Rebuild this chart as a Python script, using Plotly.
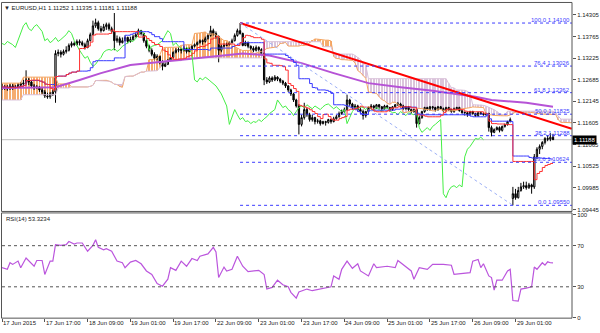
import plotly.graph_objects as go

# ---------------- data ----------------
bar_index = list(range(207))  # hourly bars from 17 Jun 2015 01:00

open_ = [1.1250,1.1248,1.1250,1.1246,1.1253,1.1248,1.1250,1.1255,1.1258,1.1260,
         1.1268,1.1263,1.1253,1.1248,1.1250,1.1243,1.1238,1.1228,1.1226,1.1233,
         1.1238,1.1334,1.1337,1.1332,1.1339,1.1342,1.1354,1.1359,1.1356,1.1364,
         1.1361,1.1356,1.1349,1.1366,1.1381,1.1403,1.1411,1.1396,1.1391,1.1401,
         1.1406,1.1396,1.1389,1.1366,1.1371,1.1361,1.1366,1.1374,1.1364,1.1369,
         1.1376,1.1381,1.1391,1.1384,1.1366,1.1352,1.1342,1.1332,1.1322,1.1327,
         1.1312,1.1302,1.1307,1.1317,1.1324,1.1337,1.1342,1.1344,1.1342,1.1347,
         1.1339,1.1344,1.1352,1.1356,1.1361,1.1366,1.1364,1.1371,1.1379,1.1391,
         1.1384,1.1376,1.1342,1.1352,1.1354,1.1356,1.1361,1.1366,1.1379,1.1391,
         1.1384,1.1354,1.1361,1.1352,1.1347,1.1342,1.1349,1.1344,1.1334,1.1268,
         1.1263,1.1273,1.1268,1.1275,1.1270,1.1265,1.1260,1.1253,1.1243,1.1233,
         1.1218,1.1203,1.1157,1.1174,1.1194,1.1181,1.1169,1.1174,1.1164,1.1166,
         1.1159,1.1164,1.1162,1.1169,1.1164,1.1171,1.1176,1.1184,1.1189,1.1194,
         1.1218,1.1208,1.1199,1.1203,1.1194,1.1189,1.1179,1.1189,1.1199,1.1203,
         1.1199,1.1206,1.1201,1.1196,1.1203,1.1199,1.1194,1.1201,1.1206,1.1208,
         1.1203,1.1196,1.1201,1.1194,1.1189,1.1194,1.1159,1.1174,1.1189,1.1199,
         1.1194,1.1201,1.1199,1.1194,1.1201,1.1196,1.1191,1.1199,1.1194,1.1189,
         1.1196,1.1199,1.1191,1.1186,1.1186,1.1181,1.1189,1.1184,1.1179,1.1186,
         1.1184,1.1181,1.1184,1.1149,1.1137,1.1144,1.1149,1.1142,1.1152,1.1157,
         1.1164,1.0972,1.0984,1.0974,1.0992,1.1001,1.1004,1.0999,1.1006,1.1001,
         1.1076,1.1095,1.1102,1.1112,1.1122,1.1120,1.11252]
high = [1.1258,1.1255,1.1255,1.1258,1.1258,1.1255,1.1260,1.1263,1.1268,1.1292,
        1.1273,1.1265,1.1258,1.1255,1.1253,1.1248,1.1243,1.1236,1.1238,1.1243,
        1.1342,1.1344,1.1342,1.1344,1.1352,1.1359,1.1364,1.1364,1.1369,1.1369,
        1.1366,1.1361,1.1371,1.1386,1.1416,1.1421,1.1416,1.1403,1.1408,1.1411,
        1.1411,1.1401,1.1435,1.1379,1.1376,1.1374,1.1379,1.1376,1.1376,1.1381,
        1.1386,1.1396,1.1393,1.1386,1.1369,1.1356,1.1347,1.1337,1.1332,1.1329,
        1.1317,1.1312,1.1320,1.1327,1.1339,1.1347,1.1349,1.1347,1.1352,1.1349,
        1.1349,1.1354,1.1359,1.1364,1.1369,1.1369,1.1376,1.1384,1.1403,1.1396,
        1.1389,1.1379,1.1356,1.1359,1.1361,1.1364,1.1371,1.1384,1.1396,1.1410,
        1.1386,1.1366,1.1364,1.1354,1.1352,1.1354,1.1352,1.1347,1.1337,1.1275,
        1.1277,1.1277,1.1280,1.1277,1.1273,1.1268,1.1263,1.1255,1.1246,1.1236,
        1.1221,1.1208,1.1181,1.1211,1.1199,1.1186,1.1181,1.1176,1.1171,1.1169,
        1.1166,1.1166,1.1171,1.1171,1.1176,1.1181,1.1189,1.1194,1.1199,1.1231,
        1.1221,1.1211,1.1208,1.1206,1.1199,1.1194,1.1191,1.1201,1.1208,1.1206,
        1.1208,1.1208,1.1203,1.1206,1.1206,1.1201,1.1203,1.1208,1.1213,1.1211,
        1.1206,1.1203,1.1203,1.1196,1.1196,1.1196,1.1179,1.1191,1.1201,1.1201,
        1.1203,1.1203,1.1201,1.1203,1.1203,1.1199,1.1201,1.1201,1.1196,1.1199,
        1.1201,1.1201,1.1194,1.1189,1.1189,1.1191,1.1191,1.1186,1.1189,1.1189,
        1.1186,1.1186,1.1186,1.1154,1.1147,1.1152,1.1152,1.1154,1.1159,1.1166,
        1.1174,1.1001,1.0996,1.1001,1.1011,1.1014,1.1014,1.1011,1.1009,1.1083,
        1.1100,1.1107,1.1115,1.1125,1.1130,1.1135,1.11335]
low = [1.1243,1.1243,1.1241,1.1243,1.1243,1.1246,1.1248,1.1250,1.1253,1.1258,
       1.1255,1.1248,1.1243,1.1246,1.1238,1.1233,1.1223,1.1221,1.1221,1.1228,
       1.1211,1.1327,1.1324,1.1329,1.1334,1.1339,1.1349,1.1352,1.1354,1.1354,
       1.1352,1.1344,1.1347,1.1364,1.1379,1.1398,1.1391,1.1386,1.1389,1.1393,
       1.1391,1.1384,1.1342,1.1361,1.1354,1.1359,1.1364,1.1359,1.1361,1.1366,
       1.1374,1.1379,1.1379,1.1361,1.1347,1.1337,1.1327,1.1317,1.1317,1.1307,
       1.1292,1.1300,1.1305,1.1315,1.1322,1.1334,1.1337,1.1334,1.1339,1.1334,
       1.1337,1.1342,1.1349,1.1354,1.1359,1.1356,1.1361,1.1369,1.1376,1.1379,
       1.1371,1.1312,1.1337,1.1349,1.1352,1.1354,1.1359,1.1364,1.1376,1.1381,
       1.1352,1.1352,1.1347,1.1342,1.1337,1.1339,1.1339,1.1329,1.1255,1.1258,
       1.1260,1.1263,1.1265,1.1265,1.1260,1.1255,1.1248,1.1238,1.1228,1.1213,
       1.1199,1.1132,1.1152,1.1169,1.1176,1.1164,1.1164,1.1157,1.1159,1.1154,
       1.1157,1.1154,1.1159,1.1159,1.1162,1.1169,1.1174,1.1181,1.1186,1.1191,
       1.1203,1.1194,1.1196,1.1189,1.1184,1.1169,1.1174,1.1186,1.1196,1.1194,
       1.1196,1.1196,1.1191,1.1194,1.1196,1.1189,1.1191,1.1199,1.1203,1.1199,
       1.1194,1.1194,1.1191,1.1184,1.1186,1.1149,1.1157,1.1171,1.1186,1.1191,
       1.1191,1.1194,1.1189,1.1191,1.1194,1.1189,1.1189,1.1191,1.1186,1.1186,
       1.1194,1.1189,1.1184,1.1179,1.1176,1.1179,1.1181,1.1176,1.1176,1.1181,
       1.1179,1.1179,1.1139,1.1127,1.1135,1.1142,1.1137,1.1139,1.1149,1.1154,
       1.1162,1.0955,1.0969,1.0972,1.0989,1.0996,1.0994,1.0996,1.0984,1.0996,
       1.1070,1.1083,1.1095,1.1107,1.1115,1.1115,1.11181]
close = [1.1248,1.1250,1.1246,1.1253,1.1248,1.1250,1.1255,1.1258,1.1260,1.1268,
         1.1263,1.1253,1.1248,1.1250,1.1243,1.1238,1.1228,1.1226,1.1233,1.1238,
         1.1334,1.1337,1.1332,1.1339,1.1342,1.1354,1.1359,1.1356,1.1364,1.1361,
         1.1356,1.1349,1.1366,1.1381,1.1403,1.1411,1.1396,1.1391,1.1401,1.1406,
         1.1396,1.1389,1.1366,1.1371,1.1361,1.1366,1.1374,1.1364,1.1369,1.1376,
         1.1381,1.1391,1.1384,1.1366,1.1352,1.1342,1.1332,1.1322,1.1327,1.1312,
         1.1302,1.1307,1.1317,1.1324,1.1337,1.1342,1.1344,1.1342,1.1347,1.1339,
         1.1344,1.1352,1.1356,1.1361,1.1366,1.1364,1.1371,1.1379,1.1391,1.1384,
         1.1376,1.1342,1.1352,1.1354,1.1356,1.1361,1.1366,1.1379,1.1391,1.1384,
         1.1354,1.1361,1.1352,1.1347,1.1342,1.1349,1.1344,1.1334,1.1268,1.1263,
         1.1273,1.1268,1.1275,1.1270,1.1265,1.1260,1.1253,1.1243,1.1233,1.1218,
         1.1203,1.1157,1.1174,1.1194,1.1181,1.1169,1.1174,1.1164,1.1166,1.1159,
         1.1164,1.1162,1.1169,1.1164,1.1171,1.1176,1.1184,1.1189,1.1194,1.1218,
         1.1208,1.1199,1.1203,1.1194,1.1189,1.1179,1.1189,1.1199,1.1203,1.1199,
         1.1206,1.1201,1.1196,1.1203,1.1199,1.1194,1.1201,1.1206,1.1208,1.1203,
         1.1196,1.1201,1.1194,1.1189,1.1194,1.1159,1.1174,1.1189,1.1199,1.1194,
         1.1201,1.1199,1.1194,1.1201,1.1196,1.1191,1.1199,1.1194,1.1189,1.1196,
         1.1199,1.1191,1.1186,1.1187,1.1181,1.1189,1.1184,1.1179,1.1186,1.1184,
         1.1181,1.1184,1.1149,1.1137,1.1144,1.1149,1.1142,1.1152,1.1157,1.1164,
         1.1169,1.0984,1.0974,1.0992,1.1001,1.1004,1.0999,1.1006,1.1001,1.1076,
         1.1095,1.1102,1.1112,1.1122,1.1120,1.1125,1.11188]

# Senkou spans of the cloud over the first 26 bars (projected from before the window)
senkou_a_early = [1.1260]*8 + [1.1275]*13 + [1.1258]*5
senkou_b_early = [1.1218]*8 + [1.1231]*13 + [1.1248]*5

# purple moving average, read at vertices (bar index, price)
ma_bar = [0, 20, 29, 37, 48, 58, 71, 83, 90, 100, 112, 124, 137, 149, 161, 177, 183, 196, 206]
ma_val = [1.1248, 1.1250, 1.1268, 1.1285, 1.1305, 1.1312, 1.1322, 1.1329, 1.1334, 1.1329,
          1.1310, 1.1285, 1.1260, 1.1250, 1.1241, 1.1226, 1.1218, 1.1211, 1.1201]

# RSI(14), read at vertices
rsi_bar = [0,2,3,4,6,7,9,10,12,13,15,16,18,19,20,22,24,25,27,28,30,32,34,35,36,38,39,41,43,45,
           46,48,50,52,54,56,58,60,62,63,65,67,69,71,73,74,77,79,80,81,83,84,86,88,90,92,94,96,98,99,
           101,103,105,107,108,110,111,114,116,119,121,123,124,126,127,129,131,133,134,137,139,140,144,147,148,151,153,154,156,159,
           161,165,168,169,171,175,176,178,179,180,182,183,184,185,187,189,190,191,193,194,196,198,199,200,202,203,204,205,206]
rsi_val = [48.6,47,53.4,51.8,55,48.6,58,55,50,55.6,55.6,42,55,55,71,70.3,71,74,71.6,72.6,72.6,64.6,70.3,75.8,68.4,66,67,64.6,55,53.4,
           48.6,54,55.6,52.4,45.4,42,33.2,30.6,37.4,48.6,46,55,50,57.5,55.6,59.8,62,68.4,64,39,49.2,45.4,47,59.8,50,44.7,45.4,46,42,27.8,
           29.4,36.4,32,30,24.6,19,25,27.8,26.2,27.8,29.4,30,40.6,37.4,47,55,48,52.4,45.4,40.6,52.4,48.6,50,48.6,55.6,50,45.4,37.4,48.6,47,
           51.8,51.8,51,42,42.8,43.8,55,56.6,48.6,52.4,40.6,39,26.8,36.4,36.4,45.4,47,16.6,16,27.8,28.7,30,49.2,47,53.4,51,54.3,53.4,53.3234]

# x-axis labels every 16 bars
tick_bar = [0, 16, 32, 48, 64, 80, 96, 112, 128, 144, 160, 176, 192]
tick_text = ["17 Jun 2015", "17 Jun 17:00", "18 Jun 09:00", "19 Jun 01:00", "19 Jun 17:00",
             "22 Jun 09:00", "23 Jun 01:00", "23 Jun 17:00", "24 Jun 09:00", "25 Jun 01:00",
             "25 Jun 17:00", "26 Jun 09:00", "29 Jun 01:00"]

price_ticks = [1.14305, 1.13765, 1.13225, 1.12685, 1.12145, 1.11605, 1.11065, 1.10525, 1.09985, 1.09445]
rsi_ticks = [100, 70, 30, 0]
rsi_levels = [70, 30]

# Fibonacci retracement (from the 22 Jun high bar to the 29 Jun low bar)
fib_pct = ["100.0", "76.4", "61.8", "50.0", "38.2", "23.6", "0.0"]
fib_price = [1.14100, 1.13026, 1.12362, 1.11825, 1.11288, 1.10624, 1.09550]
fib_bar_from, fib_bar_to = 89, 191

# red trend line anchors
trend_bar = [89, 213]
trend_val = [1.1410, 1.1146]

# ---------------- derived Ichimoku (9, 26, 52) ----------------
N = len(close)
def mid(i, n):
    s = max(0, i - n + 1)
    return (max(high[s:i + 1]) + min(low[s:i + 1])) / 2
tenkan = [mid(i, 9) for i in range(N)]
kijun = [mid(i, 26) for i in range(N)]
span_a = senkou_a_early + [(tenkan[i] + kijun[i]) / 2 for i in range(N)]
span_b = senkou_b_early + [mid(i, 52) for i in range(N)]
span_x = list(range(len(span_a)))
chikou_x = [i - 26 for i in range(26, N)]
chikou_y = close[26:]

# ---------------- figure ----------------
XR = [0, 213.1]
FONT = "Liberation Sans, Arial, sans-serif"
TXT = "#222222"
fig = go.Figure()

# cloud hatch (one thin vertical stroke per bar)
fig.add_trace(go.Bar(
    x=span_x, base=[min(a, b) for a, b in zip(span_a, span_b)],
    y=[abs(a - b) for a, b in zip(span_a, span_b)],
    width=0.3, marker=dict(color=["#f4a460" if a >= b else "#d8bfd8" for a, b in zip(span_a, span_b)],
                           line=dict(width=0)),
    opacity=0.9, xaxis="x", yaxis="y", hoverinfo="skip"))
fig.add_trace(go.Scatter(x=span_x, y=span_a, mode="lines", line=dict(color="#f4a460", width=1),
                         xaxis="x", yaxis="y", hoverinfo="skip"))
fig.add_trace(go.Scatter(x=span_x, y=span_b, mode="lines", line=dict(color="#d8bfd8", width=1),
                         xaxis="x", yaxis="y", hoverinfo="skip"))

# candles
fig.add_trace(go.Candlestick(
    x=bar_index, open=open_, high=high, low=low, close=close,
    increasing=dict(line=dict(color="#000000", width=1), fillcolor="#ffffff"),
    decreasing=dict(line=dict(color="#000000", width=1), fillcolor="#000000"),
    whiskerwidth=0, xaxis="x", yaxis="y", hoverinfo="skip"))

# moving average, ichimoku lines
fig.add_trace(go.Scatter(x=ma_bar, y=ma_val, mode="lines", line=dict(color="#b653d6", width=2),
                         xaxis="x", yaxis="y", hoverinfo="skip"))
fig.add_trace(go.Scatter(x=chikou_x, y=chikou_y, mode="lines", line=dict(color="#44ee44", width=1),
                         xaxis="x", yaxis="y", hoverinfo="skip"))
fig.add_trace(go.Scatter(x=bar_index, y=kijun, mode="lines", line=dict(color="#3a3aff", width=1, shape="hv"),
                         xaxis="x", yaxis="y", hoverinfo="skip"))
fig.add_trace(go.Scatter(x=bar_index, y=tenkan, mode="lines", line=dict(color="#ff3030", width=1, shape="hv"),
                         xaxis="x", yaxis="y", hoverinfo="skip"))

# trend line
fig.add_trace(go.Scatter(x=trend_bar, y=trend_val, mode="lines", line=dict(color="#ff0000", width=2),
                         xaxis="x", yaxis="y", hoverinfo="skip"))

# RSI
fig.add_trace(go.Scatter(x=rsi_bar, y=rsi_val, mode="lines", line=dict(color="#bb55dd", width=1.2),
                         xaxis="x", yaxis="y2", hoverinfo="skip"))

shapes = []
annotations = []

# fib lines and labels
for p, v in zip(fib_pct, fib_price):
    shapes.append(dict(type="line", xref="x", yref="y", x0=fib_bar_from, x1=XR[1], y0=v, y1=v,
                       line=dict(color="#3c3cff", width=1, dash="dot"), layer="above"))
    annotations.append(dict(xref="paper", yref="y", x=571 / 600, y=v, xanchor="right", yanchor="bottom",
                            text=f"{p} {v:.5f}", showarrow=False, borderpad=0, yshift=-1,
                            font=dict(family=FONT, size=6, color="#3c3cff")))
shapes.append(dict(type="line", xref="x", yref="y", x0=fib_bar_from, x1=fib_bar_to,
                   y0=fib_price[0], y1=fib_price[-1], line=dict(color="#9db0f5", width=1, dash="dot")))

# bid line
shapes.append(dict(type="line", xref="paper", yref="y", x0=2 / 600, x1=572 / 600, y0=close[-1], y1=close[-1],
                   line=dict(color="#c0c0c0", width=1), layer="below"))

# RSI levels
for lv in rsi_levels:
    shapes.append(dict(type="line", xref="paper", yref="y2", x0=2 / 600, x1=572 / 600, y0=lv, y1=lv,
                       line=dict(color="#555555", width=1, dash="dot")))

# panel frames
def py(p):
    return 1 - p / 333
shapes.append(dict(type="rect", xref="paper", yref="paper", x0=1.5 / 600, x1=572 / 600, y0=py(213), y1=py(1.5),
                   line=dict(color="#555555", width=1)))
shapes.append(dict(type="rect", xref="paper", yref="paper", x0=1.5 / 600, x1=572 / 600, y0=py(321), y1=py(214.5),
                   line=dict(color="#555555", width=1)))

# date labels
for b, t in zip(tick_bar, tick_text):
    annotations.append(dict(xref="x", yref="paper", x=b, y=py(326), xanchor="left", yanchor="middle",
                            text=t, showarrow=False, borderpad=0, xshift=0,
                            font=dict(family=FONT, size=6, color=TXT)))

# titles
annotations.append(dict(xref="paper", yref="paper", x=3 / 600, y=py(7.5), xanchor="left", yanchor="middle",
                        text=f"▼ EURUSD,H1 {open_[-1]:.5f} {high[-1]:.5f} {low[-1]:.5f} {close[-1]:.5f}",
                        showarrow=False, borderpad=0, font=dict(family=FONT, size=6, color=TXT)))
annotations.append(dict(xref="paper", yref="paper", x=5 / 600, y=py(221), xanchor="left", yanchor="middle",
                        text=f"RSI(14) {rsi_val[-1]:.4f}", showarrow=False, borderpad=0,
                        font=dict(family=FONT, size=6, color=TXT)))

# bid price box
annotations.append(dict(xref="paper", yref="y", x=572 / 600, y=close[-1], xanchor="left", yanchor="middle",
                        text=f"{close[-1]:.5f}", showarrow=False, bgcolor="#000000", borderpad=1,
                        font=dict(family=FONT, size=6, color="#ffffff")))

fig.update_layout(
    width=600, height=333, margin=dict(l=0, r=0, t=0, b=0),
    paper_bgcolor="#ffffff", plot_bgcolor="#ffffff", showlegend=False, hovermode=False,
    barmode="overlay", shapes=shapes, annotations=annotations,
    xaxis=dict(domain=[2 / 600, 572 / 600], range=XR, anchor="y2", showgrid=False, zeroline=False,
               rangeslider=dict(visible=False), tickmode="array", tickvals=tick_bar, ticks="outside",
               ticklen=3, tickcolor="#555555", showticklabels=False, showline=False),
    yaxis=dict(domain=[py(213), py(2)], range=[1.09397, 1.14601], side="right", anchor="x",
               showgrid=False, zeroline=False, tickmode="array", tickvals=price_ticks,
               ticktext=[f"{v:.5f}" for v in price_ticks], ticks="outside", ticklen=3, tickcolor="#555555",
               tickfont=dict(family=FONT, size=6, color=TXT), showline=False),
    yaxis2=dict(domain=[py(321), py(215)], range=[-0.5, 101.4], side="right", anchor="x",
                showgrid=False, zeroline=False, tickmode="array", tickvals=rsi_ticks, ticks="outside",
                ticklen=3, tickcolor="#555555", tickfont=dict(family=FONT, size=6, color=TXT), showline=False),
)

fig.write_html("out.html", config={"displayModeBar": False})
